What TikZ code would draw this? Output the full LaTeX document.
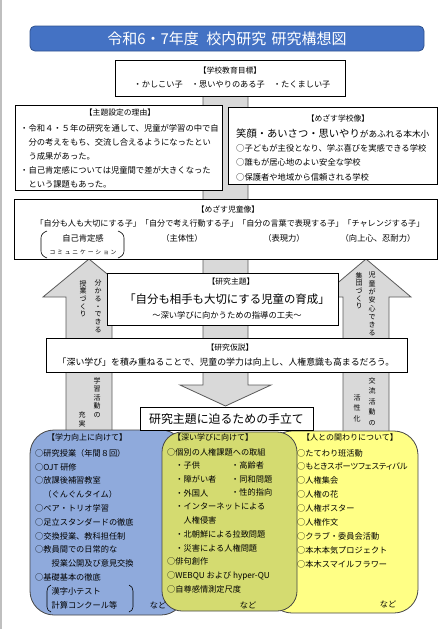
\documentclass[tikz,border=0pt]{standalone}
\usepackage{fontspec}
\setmainfont{Noto Sans CJK JP}
\newfontfamily\spacedjp[LetterSpace=32]{Noto Sans CJK JP}
\newfontfamily\paltjp[RawFeature=+palt]{Noto Sans CJK JP}
\usetikzlibrary{positioning}
\definecolor{titleblue}{RGB}{68,114,196}
\definecolor{titleedge}{RGB}{47,82,143}
\definecolor{arrowgray}{RGB}{217,217,217}
\definecolor{arrowedge}{RGB}{90,90,90}
\definecolor{softblue}{RGB}{143,170,220}
\definecolor{softolive}{RGB}{212,219,112}
\definecolor{softyellow}{RGB}{255,255,133}
\definecolor{paneledge}{RGB}{70,70,70}
\newcommand{\fs}[2]{\fontsize{#1}{#2}\selectfont}
\tikzset{
  whitebox/.style={draw=black, fill=white, line width=0.8pt, inner sep=0pt},
  blockarrow/.style={draw=arrowedge, fill=arrowgray, line width=0.8pt},
  panel/.style={draw=paneledge, line width=0.8pt, rounded corners=24pt},
  heading/.style={inner sep=0pt, font=\fs{7.8}{10}},
  body/.style={inner sep=0pt, align=left, font=\fs{8.3}{14}},
  tate/.style={inner sep=0pt, align=center, font=\fs{7}{7.7}},
  bracket/.style={line width=0.6pt},
}
\begin{document}
\begin{tikzpicture}[x=1pt, y=-1pt]
  \useasboundingbox (0,0) rectangle (447,629);
  \draw[black!25, line width=1.5pt] (0.75,0) -- (0.75,629);

  % block arrows behind the boxes
  \draw[blockarrow] (203,95) -- (203,385) -- (180,385) -- (225.5,406) -- (271,385) -- (248,385) -- (248,95) -- cycle;
  \draw[blockarrow] (66,440) -- (66,297) -- (43,297) -- (89,259) -- (135,297) -- (112,297) -- (112,440) -- cycle;
  \draw[blockarrow] (343,440) -- (343,297) -- (321,297) -- (366,259) -- (411,297) -- (389,297) -- (389,440) -- cycle;

  % title
  \node[draw=titleedge, fill=titleblue, rounded corners=5pt, line width=0.8pt, minimum width=394pt, minimum height=25pt, text=white, font=\fs{15}{18}] (title) at (227,38.5) {令和6・7年度\hspace{0.5em}校内研究\hspace{0.35em}研究構想図};

  % school goal
  \node[whitebox, minimum width=230pt, minimum height=36pt] (goalbox) at (230,78) {};
  \node[heading] (goalhead) at (230,71) {【学校教育目標】};
  \node[inner sep=0pt, font=\fs{8.2}{10}] (goaltext) at (232,85) {・かしこい子　・思いやりのある子　・たくましい子};

  % reason for the theme
  \node[whitebox, minimum width=207pt, minimum height=85pt] (reasonbox) at (118.5,147.5) {};
  \node[heading] (reasonhead) at (120,113) {【主題設定の理由】};
  \node[body, anchor=west] (reasontext) at (20,156) {・令和４・５年の研究を通して、児童が学習の中で自\\　分の考えをもち、交流し合えるようになったとい\\　う成果があった。\\・自己肯定感については児童間で差が大きくなった\\　という課題もあった。};

  % school image
  \node[whitebox, minimum width=209pt, minimum height=77pt] (schoolbox) at (332.5,145.5) {};
  \node[heading] (schoolhead) at (338,118) {【めざす学校像】};
  \node[inner sep=0pt, anchor=base west] (motto) at (236,137) {{\fs{10.3}{12}笑顔・あいさつ・思いやり}{\fs{8.7}{10}があふれる本木小}};
  \node[body, anchor=west, font=\fs{8.3}{14.5}] (schooltext) at (236,162.5) {○子どもが主役となり、学ぶ喜びを実感できる学校\\○誰もが居心地のよい安全な学校\\○保護者や地域から信頼される学校};

  % child image
  \node[whitebox, minimum width=423pt, minimum height=60pt] (childbox) at (225.5,229) {};
  \node[heading] (childhead) at (228,209) {【めざす児童像】};
  \node[inner sep=0pt, font=\fs{8.1}{10}] (childline) at (230,223) {「自分も人も大切にする子」「自分で考え行動する子」「自分の言葉で表現する子」「チャレンジする子」};
  \node[inner sep=0pt, font=\fs{8.3}{10}] (selfesteem) at (83,238) {自己肯定感};
  \node[inner sep=0pt, font=\fs{8.3}{10}] (initiative) at (182,238) {（主体性）};
  \node[inner sep=0pt, font=\fs{8.3}{10}] (expression) at (284,238) {（表現力）};
  \node[inner sep=0pt, font=\fs{8.3}{10}] (ambition) at (378,238) {（向上心、忍耐力）};
  \node[inner sep=0pt, font=\spacedjp\fs{5.8}{7}] (commu) at (83,252) {コミュニケーション};
  \draw[bracket] (47,231) to[out=200, in=90] (41,238) -- (41,251) to[out=-90, in=160] (47,258);
  \draw[bracket] (118,231) to[out=-20, in=90] (124,238) -- (124,251) to[out=-90, in=20] (118,258);

  % research theme
  \node[whitebox, minimum width=231pt, minimum height=52pt] (themebox) at (222.5,299) {};
  \node[heading] (themehead) at (231,282) {【研究主題】};
  \node[inner sep=0pt, font=\fs{11.4}{13}] (themetext) at (227,299) {「自分も相手も大切にする児童の育成」};
  \node[inner sep=0pt, font=\fs{8.3}{10}] (themesub) at (227,315) {～深い学びに向かうための指導の工夫～};

  % hypothesis
  \node[whitebox, minimum width=361pt, minimum height=34pt] (hypobox) at (226.5,355) {};
  \node[heading] (hypohead) at (230,348) {【研究仮説】};
  \node[inner sep=0pt, font=\fs{8.9}{10}] (hypotext) at (226,362) {「深い学び」を積み重ねることで、児童の学力は向上し、人権意識も高まるだろう。};

  % vertical labels in the side arrows
  \node[tate, anchor=north] (lefttopa) at (98,280) {分\\か\\る\\・\\で\\き\\る};
  \node[tate, anchor=north] (lefttopb) at (83,280) {授\\業\\づ\\く\\り};
  \node[tate, anchor=north, font=\fs{7}{8.5}] (leftlowa) at (97,377) {学\\習\\活\\動\\の};
  \node[tate, anchor=south, font=\fs{7}{8.5}] (leftlowb) at (82,427) {充\\実};
  \node[tate, anchor=north, font=\fs{7}{8.3}] (righttopa) at (372,272) {児\\童\\が\\安\\心\\で\\き\\る};
  \node[tate, anchor=north] (righttopb) at (359,272) {集\\団\\づ\\く\\り};
  \node[tate, anchor=north, font=\fs{7}{10.6}] (rightlowa) at (372,377) {交\\流\\活\\動\\の};
  \node[tate, anchor=south, font=\fs{7}{10.3}] (rightlowb) at (357,422) {活\\性\\化};

  % three panels
  \draw[panel, fill=softblue] (30,430) rectangle (185,615);
  \draw[panel, fill=softyellow] (268,431) rectangle (418,613);
  \draw[panel, fill=softolive, rounded corners=20pt] (162,432) rectangle (297,611);

  % learning
  \node[heading, font=\fs{8}{10}] (bluehead) at (87,437) {【学力向上に向けて】};
  \node[body, anchor=west, font=\fs{8.2}{13.8}] (bluetext) at (35,529) {○研究授業（年間８回）\\○OJT 研修\\○放課後補習教室\\　（ぐんぐんタイム）\\○ペア・トリオ学習\\○足立スタンダードの徹底\\○交換授業、教科担任制\\○教員間での日常的な\\　　授業公開及び意見交換\\○基礎基本の徹底\\　　漢字小テスト\\　　計算コンクール等};
  \node[inner sep=0pt, font=\fs{8.2}{10}] (blueetc) at (158,605) {など};
  \draw[bracket] (51,585) to[out=200, in=90] (47,591) -- (47,607) to[out=-90, in=160] (51,612);
  \draw[bracket] (129,585) to[out=-20, in=90] (133,591) -- (133,607) to[out=-90, in=20] (129,612);

  % deep learning
  \node[heading, font=\fs{8}{10}] (olivehead) at (213,437) {【深い学びに向けて】};
  \node[body, anchor=west, font=\fs{8.2}{13.7}] (olivetext) at (167,520.5) {○個別の人権課題への取組\\　・子供\\　・障がい者\\　・外国人\\　・インターネットによる\\　　人権侵害\\　・北朝鮮による拉致問題\\　・災害による人権問題\\○俳句創作\\○WEBQU および hyper-QU\\○自尊感情測定尺度};
  \node[body, anchor=west, font=\fs{8.2}{13.7}] (olivecol) at (231,479) {・高齢者\\・同和問題\\・性的指向};
  \node[inner sep=0pt, font=\fs{8.2}{10}] (oliveetc) at (248,605) {など};

  % relations with people
  \node[heading, font=\fs{8}{10}] (yellowhead) at (350,437) {【人との関わりについて】};
  \node[body, anchor=west, font=\fs{8.2}{13.9}] (yellowtext) at (297,508.5) {○たてわり班活動\\{\paltjp ○もときスポーツフェスティバル}\\○人権集会\\○人権の花\\○人権ポスター\\○人権作文\\○クラブ・委員会活動\\○本木本気プロジェクト\\○本木スマイルフラワー};
  \node[inner sep=0pt, font=\fs{8.2}{10}] (yellowetc) at (388,604) {など};

  % steps
  \node[whitebox, minimum width=173pt, minimum height=23pt, font=\fs{11.9}{14}] (stepsbox) at (226.5,418.5) {研究主題に迫るための手立て};
\end{tikzpicture}
\end{document}
